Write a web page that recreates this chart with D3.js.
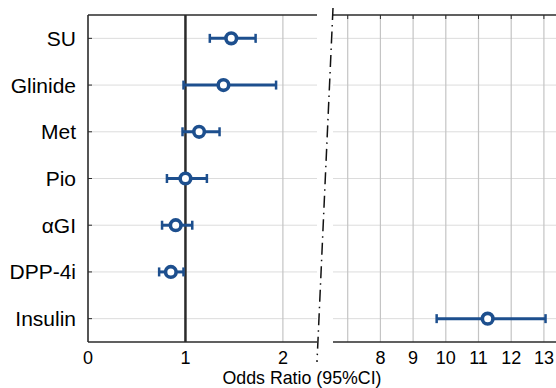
<!DOCTYPE html>
<html lang="en">
<head>
  <meta charset="UTF-8">
  <title>Odds Ratio forest plot</title>
  <script src="https://d3js.org/d3.v7.min.js"></script>
  <style>
    body { margin: 0; padding: 0; background: #fff; font-family: "Liberation Sans", Arial, sans-serif; }
    svg { display: block; }
  </style>
</head>
<body>
  <div id="chart"></div>

  <script>
    const width = 556;
    const height = 388;

    // data
    const drugs = ["SU", "Glinide", "Met", "Pio", "αGI", "DPP-4i", "Insulin"];
    const oddsRatio = [1.47, 1.39, 1.14, 1.00, 0.90, 0.85, 11.28];
    const ciLow = [1.25, 0.98, 0.97, 0.81, 0.76, 0.73, 9.72];
    const ciHigh = [1.72, 1.93, 1.35, 1.22, 1.07, 0.98, 13.05];
    const leftTicks = [0, 1, 2];
    const rightGrid = [7, 8, 9, 10, 11, 12, 13];
    const rightTicks = [8, 9, 10, 11, 12, 13];

    const rows = drugs.map((d, i) => ({ name: d, or: oddsRatio[i], lo: ciLow[i], hi: ciHigh[i] }));

    const plotTop = 15, plotBottom = 342;
    const blue = "#1d4f8e";
    const dark = "#2b2b2b";

    const svg = d3.select("#chart")
      .append("svg")
      .attr("width", width)
      .attr("height", height);

    const y = d3.scaleBand().domain(drugs).range([plotTop, plotBottom]);
    const cy = d => y(d) + y.bandwidth() / 2;

    const xL = d3.scaleLinear().domain([0, 2.35]).range([88, 317]);
    const xR = d3.scaleLinear().domain([6.55, 13.37]).range([333, 556]);

    // horizontal grid lines across both panels
    [xL, xR].forEach(x => {
      svg.append("g")
        .selectAll("line")
        .data(drugs)
        .join("line")
        .attr("x1", x.range()[0]).attr("x2", x.range()[1])
        .attr("y1", cy).attr("y2", cy)
        .attr("stroke", "#dcdcdc").attr("stroke-width", 1);
    });

    // vertical grid
    svg.append("g")
      .selectAll("line")
      .data([2])
      .join("line")
      .attr("x1", xL).attr("x2", xL)
      .attr("y1", plotTop).attr("y2", plotBottom)
      .attr("stroke", "#c4c4c4").attr("stroke-width", 1.2);

    svg.append("g")
      .selectAll("line")
      .data(rightGrid)
      .join("line")
      .attr("x1", xR).attr("x2", xR)
      .attr("y1", plotTop).attr("y2", plotBottom)
      .attr("stroke", "#c4c4c4").attr("stroke-width", 1.2);

    // reference line at OR = 1
    svg.append("line")
      .attr("x1", xL(1)).attr("x2", xL(1))
      .attr("y1", plotTop).attr("y2", plotBottom)
      .attr("stroke", dark).attr("stroke-width", 2.5);

    // frames
    const frame = svg.append("g").attr("stroke", dark).attr("stroke-width", 1.6);
    frame.append("line").attr("x1", xL.range()[0]).attr("x2", xL.range()[0]).attr("y1", plotTop).attr("y2", plotBottom);
    [plotTop, plotBottom].forEach(yy => {
      frame.append("line").attr("x1", xL.range()[0]).attr("x2", xL.range()[1]).attr("y1", yy).attr("y2", yy);
      frame.append("line").attr("x1", xR.range()[0]).attr("x2", xR.range()[1]).attr("y1", yy).attr("y2", yy);
    });

    // small inner ticks on left axis and top edge of right panel
    frame.append("g").selectAll("line").data(drugs).join("line")
      .attr("x1", xL.range()[0]).attr("x2", xL.range()[0] + 4)
      .attr("y1", cy).attr("y2", cy).attr("stroke-width", 1);
    frame.append("g").selectAll("line").data(rightGrid).join("line")
      .attr("x1", xR).attr("x2", xR)
      .attr("y1", plotTop).attr("y2", plotTop + 4).attr("stroke-width", 1);

    // axis break (dash-dot)
    svg.append("line")
      .attr("x1", xR.range()[0]).attr("y1", 8)
      .attr("x2", xL.range()[1]).attr("y2", 362)
      .attr("stroke", "#111").attr("stroke-width", 1.5)
      .attr("stroke-dasharray", "12,5,1.5,5");

    // row labels
    svg.append("g")
      .selectAll("text")
      .data(drugs)
      .join("text")
      .attr("x", 76)
      .attr("y", cy)
      .attr("dy", "0.36em")
      .attr("text-anchor", "end")
      .attr("font-size", 21)
      .attr("fill", "#000")
      .text(d => d);

    // x tick labels
    const tickLab = (x, vals) => svg.append("g")
      .selectAll("text")
      .data(vals)
      .join("text")
      .attr("x", x)
      .attr("y", 364)
      .attr("text-anchor", "middle")
      .attr("font-size", 18)
      .attr("fill", "#000")
      .text(d => d);
    tickLab(xL, leftTicks);
    tickLab(xR, rightTicks);

    svg.append("text")
      .attr("x", 302)
      .attr("y", 384)
      .attr("text-anchor", "middle")
      .attr("font-size", 17.8)
      .attr("fill", "#000")
      .text("Odds Ratio (95%CI)");

    // error bars and points
    const pts = svg.append("g");
    rows.forEach(r => {
      const x = r.or > 5 ? xR : xL;
      const g = pts.append("g").attr("stroke", blue);
      const yy = cy(r.name);
      g.append("line").attr("x1", x(r.lo)).attr("x2", x(r.hi)).attr("y1", yy).attr("y2", yy).attr("stroke-width", 3);
      [r.lo, r.hi].forEach(v => {
        g.append("line").attr("x1", x(v)).attr("x2", x(v)).attr("y1", yy - 4.5).attr("y2", yy + 4.5).attr("stroke-width", 2.5);
      });
      g.append("circle").attr("cx", x(r.or)).attr("cy", yy).attr("r", 5.3)
        .attr("fill", "#fff").attr("stroke-width", 3.6);
    });
  </script>
</body>
</html>
